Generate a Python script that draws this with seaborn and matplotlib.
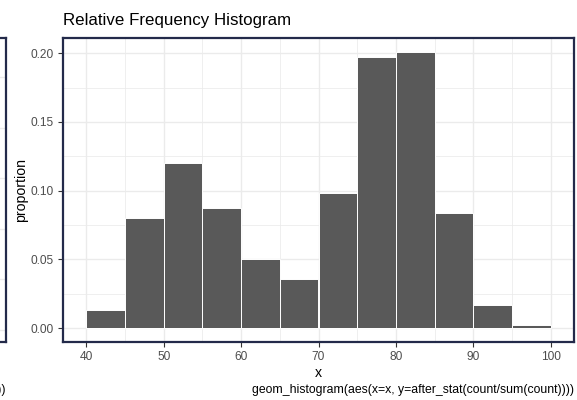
import numpy as np
import pandas as pd
import matplotlib
matplotlib.use("Agg")
import matplotlib.pyplot as plt
import seaborn as sns
from matplotlib.ticker import FixedLocator

# ---- data ----
bin_edges = [40, 45, 50, 55, 60, 65, 70, 75, 80, 85, 90, 95, 100]
bin_centers = [42.5, 47.5, 52.5, 57.5, 62.5, 67.5, 72.5, 77.5, 82.5, 87.5, 92.5, 97.5]
proportions = [0.0135, 0.0800, 0.1205, 0.0872, 0.0505, 0.0358,
               0.0982, 0.1975, 0.2010, 0.0835, 0.0170, 0.0025]
x_ticks = [40, 50, 60, 70, 80, 90, 100]
x_minor = [45, 55, 65, 75, 85, 95]
y_ticks = [0.00, 0.05, 0.10, 0.15, 0.20]
y_minor = [0.025, 0.075, 0.125, 0.175]
y_tick_labels = ["0.00", "0.05", "0.10", "0.15", "0.20"]
title = "Relative Frequency Histogram"
x_label = "x"
y_label = "proportion"
caption = "geom_histogram(aes(x=x, y=after_stat(count/sum(count))))"
left_caption = "geom_histogram(aes(x=x))"

sns.set_theme(style="white")
plt.rcParams["font.family"] = ["Liberation Sans", "DejaVu Sans"]

W, H = 577, 400
fig = plt.figure(figsize=(W / 100, H / 100), dpi=100)

navy = "#232a4a"
grid_c = "#ebebeb"

def px_rect(x0, y0, x1, y1):
    return [x0 / W, 1 - y1 / H, (x1 - x0) / W, (y1 - y0) / H]

# ---- fragment of neighbouring panel at the left edge ----
axl = fig.add_axes(px_rect(-180, 38, 5.5, 342))
axl.set_xlim(0, 1)
axl.set_ylim(-0.237, 5.77)
axl.yaxis.set_major_locator(FixedLocator([0, 1, 2, 3, 4, 5]))
axl.set_xticks([])
axl.tick_params(axis="y", left=False, labelleft=False)
axl.grid(axis="y", color=grid_c, lw=1.0)
for s in axl.spines.values():
    s.set_color(navy)
    s.set_linewidth(1.6)
fig.text(6 / W, 1 - 390 / H, left_caption, ha="right", va="center",
         fontsize=8.8, color="black")

# ---- main panel ----
ax = fig.add_axes(px_rect(63, 38, 574, 342))
df = pd.DataFrame({"x": bin_centers, "proportion": proportions})
sns.histplot(data=df, x="x", weights="proportion", bins=bin_edges,
             color="#595959", edgecolor="white", linewidth=0.7, alpha=1,
             ax=ax)

ymax = max(proportions)
ax.set_xlim(37, 103)
ax.set_ylim(-0.05 * ymax, 1.05 * ymax)

ax.set_xticks(x_ticks)
ax.set_xticklabels([str(v) for v in x_ticks])
ax.set_yticks(y_ticks)
ax.set_yticklabels(y_tick_labels)
ax.xaxis.set_minor_locator(FixedLocator(x_minor))
ax.yaxis.set_minor_locator(FixedLocator(y_minor))

ax.set_axisbelow(True)
ax.grid(which="major", color=grid_c, lw=1.0)
ax.grid(which="minor", color=grid_c, lw=0.55)
ax.tick_params(which="major", direction="out", length=3.5, width=0.8,
               color="#333333", labelcolor="#4d4d4d", labelsize=8.6, pad=3)
ax.tick_params(which="minor", length=0)
ax.tick_params(axis="x", bottom=True)
ax.tick_params(axis="y", left=True)

for s in ax.spines.values():
    s.set_color(navy)
    s.set_linewidth(1.6)

ax.set_xlabel(x_label, fontsize=10.2, color="black", labelpad=2)
ax.set_ylabel(y_label, fontsize=10.2, color="black", labelpad=2)

fig.text(63 / W, 1 - 20 / H, title, ha="left", va="center",
         fontsize=12.2, color="black")
fig.text(574 / W, 1 - 390 / H, caption, ha="right", va="center",
         fontsize=8.8, color="black")

fig.savefig("out.png", dpi=100)
